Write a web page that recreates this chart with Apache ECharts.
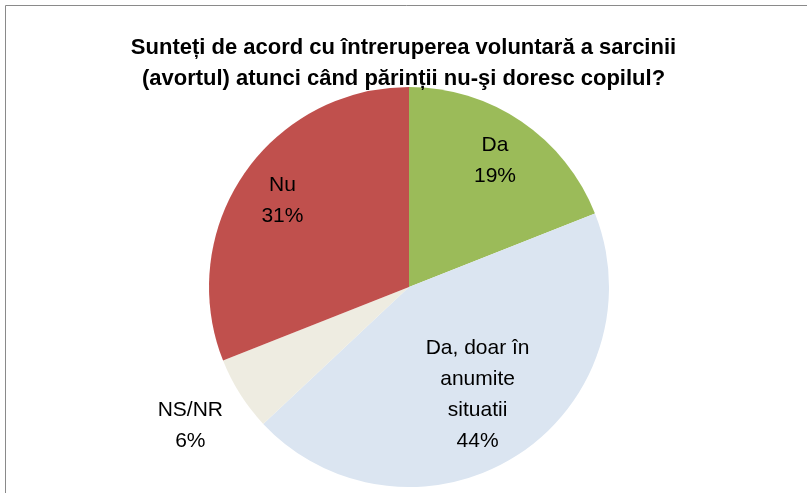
<!DOCTYPE html>
<html lang="ro">
<head>
  <meta charset="UTF-8">
  <title>Avort - sondaj</title>
  <script src="https://cdn.jsdelivr.net/npm/echarts@6/dist/echarts.min.js"></script>
  <style>
    html, body { margin: 0; padding: 0; background: #fff; }
    #chart { width: 807px; height: 493px; }
  </style>
</head>
<body>
  <div id="chart"></div>
  <script>
    // date
    const categories = ['Da', 'Da, doar în\nanumite\nsituatii', 'NS/NR', 'Nu'];
    const values = [19, 44, 6, 31];
    const colors = ['#9BBB59', '#DBE5F1', '#EEECE1', '#C0504D'];
    // distanta etichetei fata de centru (px)
    const labelRadius = [150, 125, 256, 150];

    const titleText = 'Sunteți de acord cu întreruperea voluntară a sarcinii\n(avortul) atunci când părinții nu-şi doresc copilul?';
    const font = 'Liberation Sans';
    const center = [409, 287];

    const chart = echarts.init(document.getElementById('chart'));

    const baseData = categories.map((c, i) => ({ name: c, value: values[i] }));

    const labelStyle = {
      color: '#000',
      fontFamily: font,
      fontSize: 21,
      lineHeight: 31,
      formatter: p => p.name + '\n' + p.value + '%'
    };

    // cate o serie transparenta pentru fiecare eticheta
    const labelSeries = categories.map((c, k) => ({
      type: 'pie',
      center: center,
      radius: [0, labelRadius[k] * 2],
      startAngle: 90,
      silent: true,
      itemStyle: { color: 'rgba(0,0,0,0)' },
      label: { ...labelStyle, position: 'inside' },
      labelLine: { show: false },
      data: baseData.map((d, i) => ({ ...d, label: { show: i === k } }))
    }));

    const option = {
      animation: false,
      title: {
        text: titleText,
        left: 'center',
        top: 27,
        textStyle: { fontFamily: font, fontWeight: 'bold', fontSize: 22, lineHeight: 31, color: '#000' }
      },
      graphic: [{
        type: 'rect',
        shape: { x: 5.5, y: 5.5, width: 900, height: 600 },
        style: { fill: 'none', stroke: '#8a8a8a', lineWidth: 1 },
        silent: true
      }],
      series: [
        {
          // felii
          type: 'pie',
          center: center,
          radius: [0, 200],
          startAngle: 90,
          clockwise: true,
          label: { show: false },
          labelLine: { show: false },
          silent: true,
          data: baseData.map((d, i) => ({ ...d, itemStyle: { color: colors[i] } }))
        }
      ].concat(labelSeries)
    };

    chart.setOption(option);
  </script>
</body>
</html>
